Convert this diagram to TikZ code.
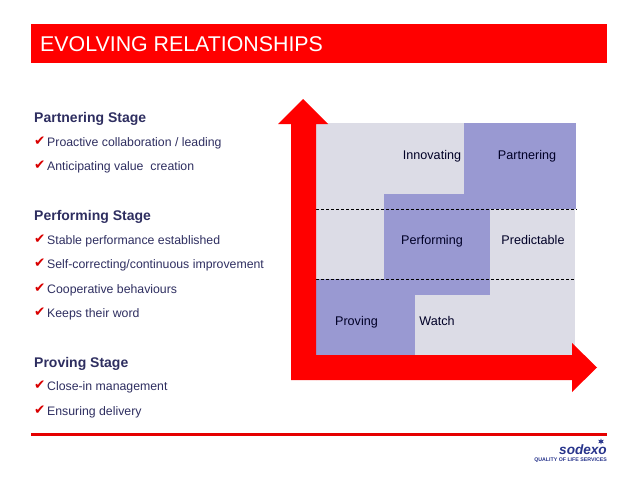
\documentclass[tikz,border=0pt]{standalone}
\usepackage{fontspec}
\setmainfont{Liberation Sans}
\newfontfamily\chkfont{DejaVu Sans}
\usetikzlibrary{arrows.meta, positioning, calc, shapes.geometric}
\definecolor{slidered}{HTML}{FF0000}
\definecolor{cellgrey}{HTML}{DCDCE6}
\definecolor{cellblue}{HTML}{9999D2}
\definecolor{inkblue}{HTML}{2E2E60}
\definecolor{logoblue}{HTML}{27348B}
\newcommand{\chk}{\makebox[13pt][l]{\raisebox{0.8pt}{\textcolor{red!85!black}{\chkfont\fontsize{13.5}{12}\selectfont ✔}}}}

\begin{document}
\begin{tikzpicture}[x=1pt, y=-1pt,
  band/.style={fill=slidered, inner sep=0pt, minimum height=39pt, minimum width=576pt, anchor=north west},
  stagehead/.style={font=\fontsize{14}{16}\selectfont\bfseries, text=inkblue, inner sep=0pt, text height=11pt, text depth=2pt},
  stageitem/.style={font=\fontsize{12.3}{14}\selectfont, text=inkblue, inner sep=0pt, text height=10pt, text depth=3pt},
  cell/.style={inner sep=0pt, anchor=north west},
  celltext/.style={font=\fontsize{12.6}{14}\selectfont, text=black!85!blue, inner sep=0pt, text height=10pt, text depth=2pt},
  divider/.style={line width=1pt, dash pattern=on 3.2pt off 1.8pt}]
\useasboundingbox (0,0) rectangle (638,479);
\node[band] (Title) at (31,24) {};
\node[anchor=west, text=white, font=\fontsize{21.35}{24}\selectfont, inner sep=0pt] (TitleText) at (40,44) {EVOLVING RELATIONSHIPS};
\node[fill=red!90!black, inner sep=0pt, minimum width=576pt, minimum height=3.6pt, anchor=north west] (Rule) at (31,432.5) {};
% stages on the left
\node[stagehead, anchor=west] (SPa) at (34,118) {Partnering Stage};
\node[stageitem, below=11.3pt of SPa.south west, anchor=north west] (I1) {\chk Proactive collaboration / leading};
\node[stageitem, below=11pt of I1.south west, anchor=north west] (I2) {\chk Anticipating value\ \ creation};
\node[stagehead, below=35.6pt of I2.south west, anchor=north west] (SPe) {Performing Stage};
\node[stageitem, below=11.3pt of SPe.south west, anchor=north west] (I3) {\chk Stable performance established};
\node[stageitem, below=11pt of I3.south west, anchor=north west] (I4) {\chk Self-correcting/continuous improvement};
\node[stageitem, below=11pt of I4.south west, anchor=north west] (I5) {\chk Cooperative behaviours};
\node[stageitem, below=11pt of I5.south west, anchor=north west] (I6) {\chk Keeps their word};
\node[stagehead, below=35.3pt of I6.south west, anchor=north west] (SPr) {Proving Stage};
\node[stageitem, below=11pt of SPr.south west, anchor=north west] (I7) {\chk Close-in management};
\node[stageitem, below=11pt of I7.south west, anchor=north west] (I8) {\chk Ensuring delivery};
% matrix
\node[cell, fill=cellgrey, minimum width=259pt, minimum height=232pt] (Grid) at (316,123) {};
\node[cell, fill=cellblue, minimum width=106pt, minimum height=101pt] (BMid) at (384,194) {};
\node[cell, fill=cellblue, minimum width=112pt, minimum height=86pt] (BTop) at (464,123) {};
\node[cell, fill=cellblue, minimum width=99pt, minimum height=76pt] (BLow) at (316,279) {};
\draw[divider] (Grid.west |- BTop.south) -- (BTop.south east);
\draw[divider] (BLow.north west) -- (Grid.east |- BLow.north);
\node[celltext] (Inn) at (432,155) {Innovating};
\node[celltext] (Par) at (527,155) {Partnering};
\node[celltext] (Per) at (432,240) {Performing};
\node[celltext] (Pre) at (533,240) {Predictable};
\node[celltext] (Pro) at (356.5,321) {Proving};
\node[celltext] (Wat) at (437,321) {Watch};
% axes
\fill[slidered] (291,380) -- (291,124) -- (278,124) -- (303,99) -- (328,124) -- (316,124) -- (316,380) -- cycle;
\fill[slidered] (316,355) -- (572,355) -- (572,343) -- (597,367.5) -- (572,392) -- (572,380) -- (316,380) -- cycle;
% logo
\node[anchor=south east, inner sep=0pt, text=logoblue, font=\fontsize{13.6}{15}\selectfont\bfseries\itshape] (Logo) at (607,455) {sodexo};
\node[star, star points=6, star point ratio=2.4, fill=logoblue, inner sep=0pt, minimum size=6.5pt] (Star) at (601,441.5) {};
\node[anchor=east, inner sep=0pt, text=logoblue, font=\fontsize{5.25}{6}\selectfont\bfseries] (Tag) at (607,460.5) {QUALITY OF LIFE SERVICES};
\end{tikzpicture}
\end{document}
